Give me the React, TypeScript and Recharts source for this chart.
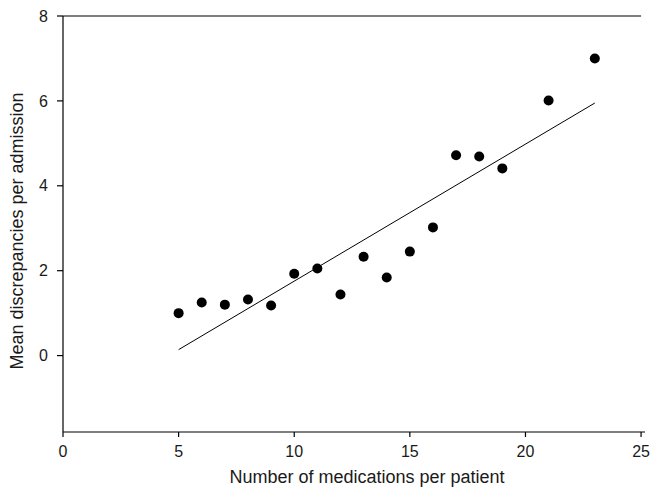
import React from "react";
import {
  ScatterChart,
  Scatter,
  XAxis,
  YAxis,
  ReferenceLine,
} from "recharts";

const medications = [5, 6, 7, 8, 9, 10, 11, 12, 13, 14, 15, 16, 17, 18, 19, 21, 23];
const discrepancies = [1.0, 1.25, 1.2, 1.32, 1.18, 1.93, 2.05, 1.44, 2.33, 1.84, 2.45, 3.02, 4.72, 4.69, 4.41, 6.01, 7.0];
const fitX = [5, 23];
const fitY = [0.14, 5.95];
const xTicks = [0, 5, 10, 15, 20, 25];
const yTicks = [0, 2, 4, 6, 8];
const xTitle = "Number of medications per patient";
const yTitle = "Mean discrepancies per admission";

const points = medications.map((x, i) => ({ x, y: discrepancies[i] }));
const fit = fitX.map((x, i) => ({ x, y: fitY[i] }));

const FONT = "'Liberation Sans', Arial, sans-serif";
const TEXT = "#1a1a1a";

const tickStyle = { fontFamily: FONT, fontSize: 16, fill: TEXT };

export default function App() {
  return (
    <div style={{ position: "absolute", left: 0, top: 0, background: "#fff" }}>
      <ScatterChart
        width={650}
        height={493}
        margin={{ top: 16, right: 5, bottom: 0, left: 0 }}
      >
        <XAxis
          type="number"
          dataKey="x"
          domain={[0, 25.17]}
          ticks={xTicks}
          allowDataOverflow
          height={61}
          tickSize={5}
          tickMargin={9}
          tick={tickStyle}
          axisLine={{ stroke: "#000", strokeWidth: 1.2 }}
          tickLine={{ stroke: "#000", strokeWidth: 1.2 }}
          label={{
            content: (props: any) => {
              const vb = props.viewBox;
              const cx = vb.x + vb.width / 2 + 13;
              return (
                <text
                  x={cx}
                  y={483}
                  textAnchor="middle"
                  fontFamily={FONT}
                  fontSize={18}
                  fill={TEXT}
                >
                  {xTitle}
                </text>
              );
            },
          }}
        />
        <YAxis
          type="number"
          dataKey="y"
          domain={[-1.8, 8]}
          ticks={yTicks}
          allowDataOverflow
          width={63}
          tickSize={6}
          tickMargin={9}
          tick={tickStyle}
          axisLine={{ stroke: "#000", strokeWidth: 1.2 }}
          tickLine={{ stroke: "#000", strokeWidth: 1.2 }}
          label={{
            content: (props: any) => {
              const vb = props.viewBox;
              const cy = vb.y + vb.height / 2 + 7;
              const cx = 17;
              return (
                <text
                  x={cx}
                  y={cy}
                  transform={`rotate(-90 ${cx} ${cy})`}
                  textAnchor="middle"
                  dominantBaseline="central"
                  fontFamily={FONT}
                  fontSize={18}
                  fill={TEXT}
                >
                  {yTitle}
                </text>
              );
            },
          }}
        />
        <YAxis
          yAxisId="right"
          orientation="right"
          type="number"
          domain={[-1.8, 8]}
          width={0}
          tick={false}
          tickLine={false}
          axisLine={{ stroke: "#000", strokeWidth: 1.2 }}
        />
        <ReferenceLine
          segment={[
            { x: 0, y: 8 },
            { x: 25, y: 8 },
          ]}
          stroke="#000"
          strokeWidth={1.2}
          ifOverflow="visible"
        />
        <Scatter
          data={fit}
          line={{ stroke: "#000", strokeWidth: 1 }}
          shape={() => <g />}
          isAnimationActive={false}
        />
        <Scatter
          data={points}
          fill="#000"
          shape={(p: any) => <circle cx={p.cx} cy={p.cy} r={5} fill="#000" />}
          isAnimationActive={false}
        />
      </ScatterChart>
    </div>
  );
}
